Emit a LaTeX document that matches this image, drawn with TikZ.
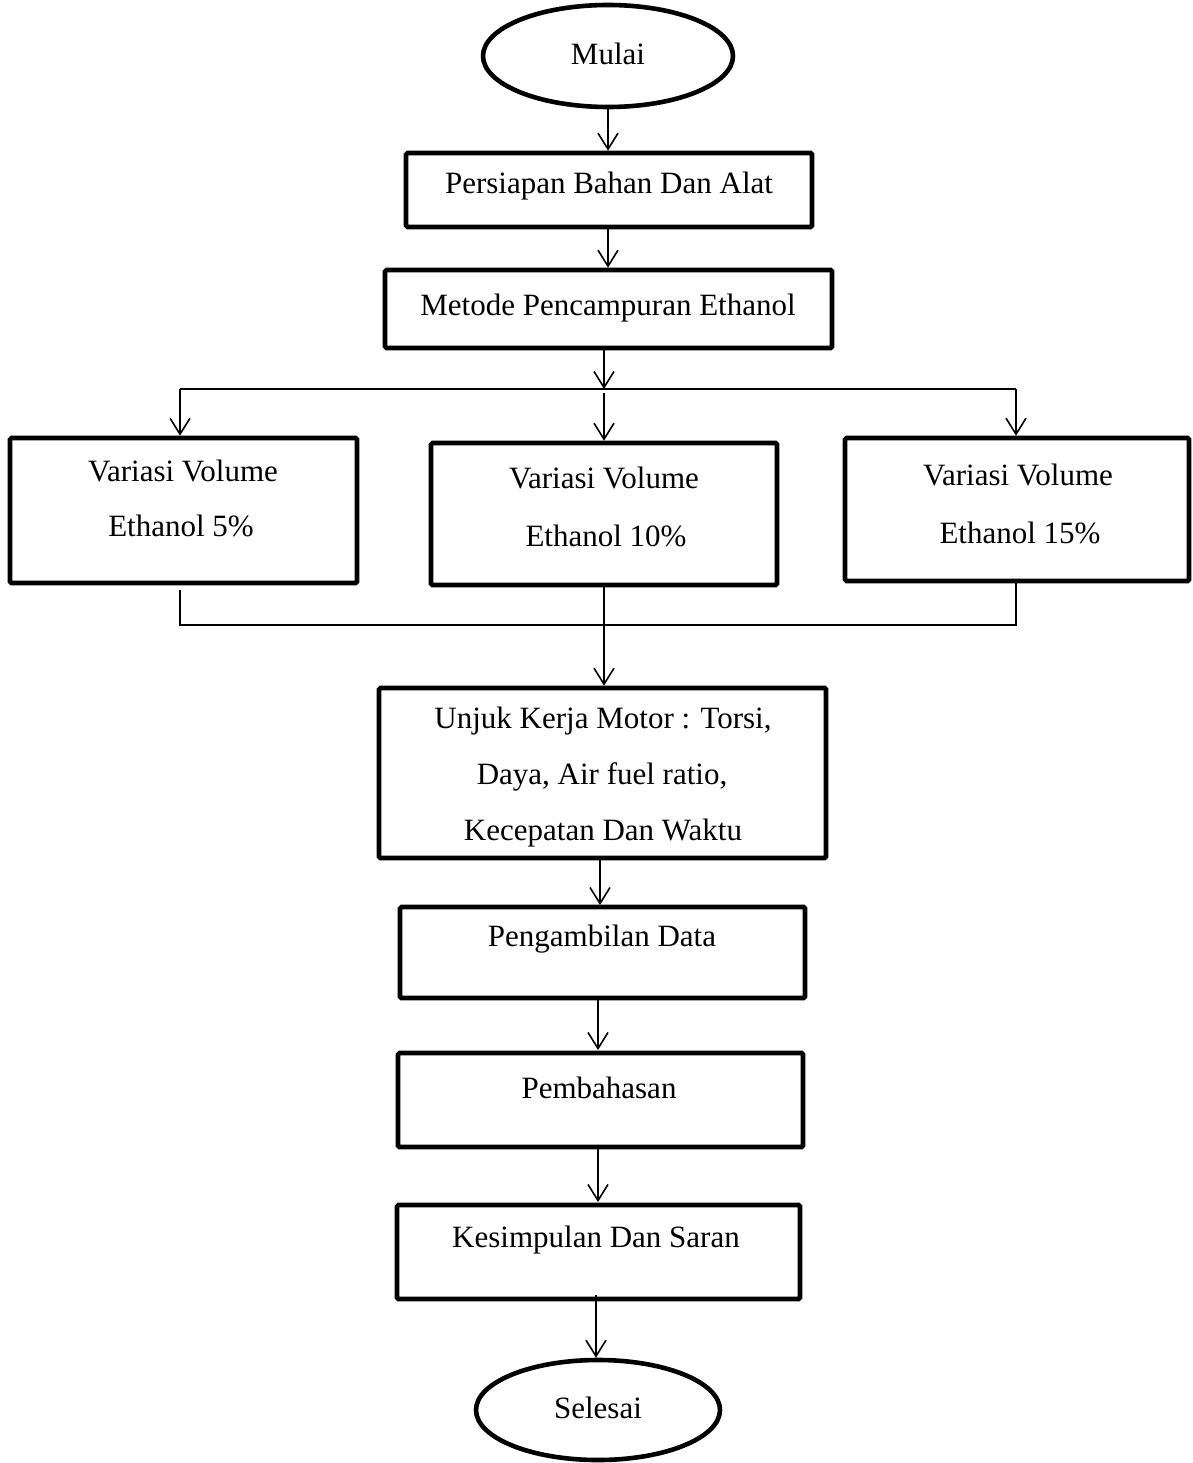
\documentclass[tikz,border=0pt]{standalone}
\usepackage{fontspec}
\setmainfont{Liberation Serif}
\usetikzlibrary{arrows.meta,shapes.geometric}
\begin{document}
\begin{tikzpicture}[x=1pt,y=-1pt,
  boxst/.style={draw,line width=4.6pt,rounded corners=1.5pt,inner sep=0pt},
  ovalst/.style={draw,ellipse,line width=4.6pt,inner sep=0pt},
  txt/.style={inner sep=0pt,font=\fontsize{31}{56}\selectfont},
  conn/.style={line width=1.6pt,-{Straight Barb[length=16pt,width=20pt,line width=1.6pt]}},
  plain/.style={line width=1.6pt}]
\useasboundingbox (0,0) rectangle (1192,1463);
% shapes
\node[ovalst,minimum width=250pt,minimum height=102pt] (mulai) at (608,56) {};
\node[txt] (tmulai) at (608,54) {Mulai};
\node[boxst,minimum width=406pt,minimum height=74pt] (b1) at (609,190) {};
\node[txt] (t1) at (609,186) {Persiapan Bahan Dan Alat};
\node[boxst,minimum width=447pt,minimum height=78pt] (b2) at (608.5,309) {};
\node[txt] (t2) at (608,308) {Metode Pencampuran Ethanol};
\node[boxst,minimum width=347pt,minimum height=145pt] (vl) at (183.5,510.5) {};
\node[txt] (tvl1) at (183,471) {Variasi Volume};
\node[txt] (tvl2) at (181,526) {Ethanol 5\%};
\node[boxst,minimum width=346pt,minimum height=142pt] (vm) at (604,514) {};
\node[txt] (tvm1) at (604,478) {Variasi Volume};
\node[txt] (tvm2) at (606,536) {Ethanol 10\%};
\node[boxst,minimum width=344pt,minimum height=143pt] (vr) at (1017,509.5) {};
\node[txt] (tvr1) at (1018,475) {Variasi Volume};
\node[txt] (tvr2) at (1020,533) {Ethanol 15\%};
\node[boxst,minimum width=447pt,minimum height=170pt] (uk) at (602.5,773) {};
\node[txt] (tuk1) at (603,721) {Unjuk Kerja Motor : Torsi,};
\node[txt] (tuk2) at (602,777) {Daya, Air fuel ratio,};
\node[txt] (tuk3) at (603,833) {Kecepatan Dan Waktu};
\node[boxst,minimum width=405pt,minimum height=91pt] (pd) at (602.5,952.5) {};
\node[txt] (tpd) at (602,939) {Pengambilan Data};
\node[boxst,minimum width=405pt,minimum height=94pt] (pb) at (600.5,1100) {};
\node[txt] (tpb) at (599,1088) {Pembahasan};
\node[boxst,minimum width=403pt,minimum height=94pt] (ks) at (598.5,1252) {};
\node[txt] (tks) at (596,1240) {Kesimpulan Dan Saran};
\node[ovalst,minimum width=244pt,minimum height=100pt] (sel) at (598,1410) {};
\node[txt] (tsel) at (598,1408) {Selesai};
% junction coordinates
\coordinate (sL) at (180,389);
\coordinate (sM) at (604,389);
\coordinate (sR) at (1016,389);
\coordinate (jL) at (180,625);
\coordinate (jM) at (604,625);
\coordinate (jR) at (1016,625);
% connectors
\draw[conn] (mulai.south) -- (mulai.south |- b1.north);
\draw[conn] (b1.south -| mulai.south) -- (mulai.south |- b2.north);
\draw[conn] (b2.south -| sM) -- (sM);
\draw[plain] (sL) -- (sR);
\draw[conn] (sL) -- (sL |- vl.north);
\draw[conn] (sM) ++(0,4) -- (sM |- vm.north);
\draw[conn] (sR) -- (sR |- vr.north);
\draw[plain] (jL |- vl.south) ++(0,5) -- (jL) -- (jR) -- (jR |- vr.south);
\draw[conn] (jM |- vm.south) -- (jM |- uk.north);
\draw[conn] (uk.south -| 600,0) -- (600,905);
\draw[conn] (pd.south -| 598,0) -- (598,1050);
\draw[conn] (pb.south -| 598,0) -- (598,1202);
\draw[conn] (596,1295) -- (sel.north -| 596,0);
\end{tikzpicture}
\end{document}
